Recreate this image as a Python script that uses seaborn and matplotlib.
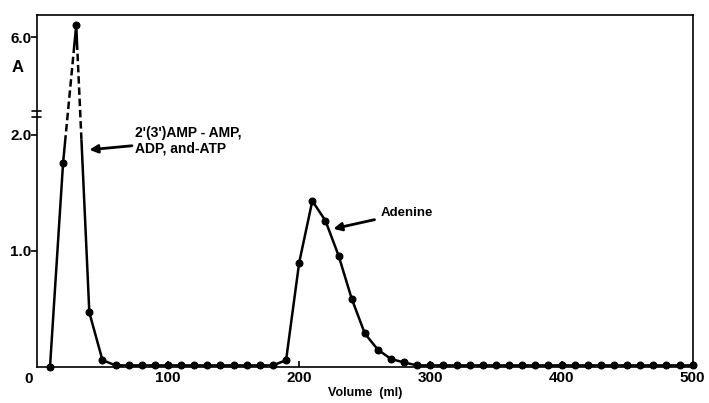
import numpy as np
import matplotlib
matplotlib.use("Agg")
import matplotlib.pyplot as plt
import matplotlib.transforms as mtransforms
from matplotlib.patches import Rectangle
import seaborn as sns

# data
volume = [10, 20, 30, 40, 50, 60, 70, 80, 90, 100,
          110, 120, 130, 140, 150, 160, 170, 180, 190, 200,
          210, 220, 230, 240, 250, 260, 270, 280, 290, 300,
          310, 320, 330, 340, 350, 360, 370, 380, 390, 400,
          410, 420, 430, 440, 450, 460, 470, 480, 490, 500]
absorbance = [0.0, 1.76, 6.5, 0.47, 0.06, 0.015, 0.015, 0.015, 0.015, 0.015,
              0.015, 0.015, 0.015, 0.015, 0.015, 0.015, 0.015, 0.015, 0.06, 0.90,
              1.43, 1.26, 0.96, 0.59, 0.29, 0.15, 0.07, 0.04, 0.015, 0.015,
              0.015, 0.015, 0.015, 0.015, 0.015, 0.015, 0.015, 0.015, 0.015, 0.015,
              0.015, 0.015, 0.015, 0.015, 0.015, 0.015, 0.015, 0.015, 0.015, 0.015]
y_ticks = [1.0, 2.0, 6.0]
y_ticklabels = ["1.0", "2.0", "6.0"]
x_ticks = [100, 200, 300, 400, 500]

# broken y axis: above 2.0 the scale is compressed
BREAK = 2.0
K = 0.209


def squash(v):
    v = np.asarray(v, dtype=float)
    return np.where(v <= BREAK, v, BREAK + (v - BREAK) * K)


df = {"volume": volume, "A": squash(absorbance)}

sns.set_style("ticks")
plt.rcParams["font.family"] = ["Liberation Sans", "DejaVu Sans"]
plt.rcParams["font.weight"] = "bold"
plt.rcParams["text.color"] = "black"
plt.rcParams["axes.labelcolor"] = "black"
plt.rcParams["xtick.color"] = "black"
plt.rcParams["ytick.color"] = "black"

fig = plt.figure(figsize=(7.09, 4.03), dpi=100)
ax = fig.add_axes([0.052, 0.089, 0.925, 0.874])

# solid part below the break, dashed part in the compressed region
sns.lineplot(x=df["volume"], y=df["A"], ax=ax, color="black", lw=1.8,
             marker="o", markersize=5, markeredgecolor="black")
line_solid = ax.lines[-1]
line_solid.set_clip_path(Rectangle((-50, -1), 700, 2.95, transform=ax.transData))

sns.lineplot(x=df["volume"], y=df["A"], ax=ax, color="black", lw=1.8,
             linestyle=(0, (3, 1.5)))
line_dash = ax.lines[-1]
line_dash.set_clip_path(Rectangle((-50, 1.95), 700, 0.8, transform=ax.transData))

sns.lineplot(x=df["volume"], y=df["A"], ax=ax, color="black", lw=1.8,
             marker="o", markersize=5, markeredgecolor="black")
line_top = ax.lines[-1]
line_top.set_clip_path(Rectangle((-50, 2.75), 700, 2.0, transform=ax.transData))

ax.set_xlim(0, 500)
ax.set_ylim(0, 3.03)
ax.set_xticks(x_ticks)
ax.set_xticklabels([str(t) for t in x_ticks], fontsize=11, fontweight="bold")
ax.set_yticks(squash(y_ticks))
ax.set_yticklabels(y_ticklabels, fontsize=11, fontweight="bold")
ax.tick_params(axis="y", left=True, direction="out", length=4, width=1.2, pad=0)
ax.tick_params(axis="x", bottom=True, direction="in", length=4, width=1.2, pad=3)
for s in ax.spines.values():
    s.set_visible(True)
    s.set_color("black")
    s.set_linewidth(1.2)

ax.text(-0.006, -0.015, "0", transform=ax.transAxes, ha="right", va="top",
        fontsize=11, fontweight="bold")
ax.text(-0.03, 0.85, "A", transform=ax.transAxes, ha="center", va="center",
        fontsize=12, fontweight="bold")
ax.set_xlabel("Volume  (ml)", fontsize=9, fontweight="bold", labelpad=1)
ax.set_ylabel("")

# axis break marks
tr = mtransforms.blended_transform_factory(ax.transAxes, ax.transData)
for yb in (2.155, 2.2):
    ax.plot([-0.007, 0.007], [yb, yb], color="black", lw=1.2,
            transform=tr, clip_on=False)

ax.annotate("2'(3')AMP - AMP,\nADP, and-ATP", xy=(40, 1.87), xytext=(75, 1.95),
            fontsize=10, fontweight="bold", va="center", ha="left",
            linespacing=1.1,
            arrowprops=dict(arrowstyle="-|>", color="black", lw=2,
                            mutation_scale=12, shrinkA=0, shrinkB=0))
ax.annotate("Adenine", xy=(226, 1.19), xytext=(262, 1.33),
            fontsize=9.5, fontweight="bold", va="center", ha="left",
            arrowprops=dict(arrowstyle="-|>", color="black", lw=2,
                            mutation_scale=12, shrinkA=2, shrinkB=0))

fig.savefig("out.png", dpi=100)
